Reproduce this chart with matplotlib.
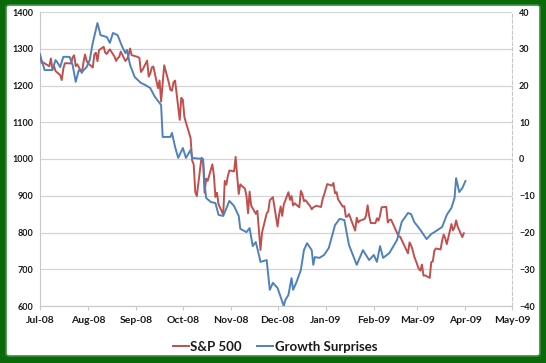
import numpy as np
import pandas as pd
import matplotlib
matplotlib.use("Agg")
import matplotlib.pyplot as plt
import matplotlib.dates as mdates
from matplotlib.patches import FancyBboxPatch

# S&P 500 daily closes, Jul 1 2008 - Mar 31 2009
holidays = ["2008-07-04", "2008-09-01", "2008-11-27", "2008-12-25",
            "2009-01-01", "2009-01-19", "2009-02-16"]
spx = [
    1284.9, 1261.5, 1262.9, 1252.3, 1273.7, 1244.7, 1253.4, 1239.5, 1228.3, 1214.9, 1245.4,
    1260.3, 1260.7, 1260.0, 1277.0, 1282.2, 1252.5, 1257.8, 1234.4, 1263.2, 1284.3, 1267.4,
    1260.3, 1249.0, 1284.9, 1289.2, 1266.1, 1296.3, 1305.3, 1289.6, 1285.8, 1292.9, 1298.2,
    1278.6, 1266.7, 1274.5, 1277.7, 1292.2, 1266.8, 1271.5, 1281.7, 1300.7, 1282.8,
    1277.6, 1275.0, 1236.8, 1242.3, 1267.8, 1224.5, 1232.0, 1249.1, 1251.7, 1192.7, 1213.6,
    1156.4, 1206.5, 1255.1, 1207.1, 1188.2, 1185.9, 1209.2, 1213.3, 1106.4, 1166.4,
    1161.1, 1114.3, 1099.2, 1056.9, 996.2, 984.9, 909.9, 899.2, 1003.4, 998.0, 907.8, 946.4,
    940.6, 985.4, 955.1, 896.8, 908.1, 876.8, 848.9, 940.5, 930.1, 954.1, 968.8,
    966.3, 1005.8, 952.8, 904.9, 931.0, 919.2, 899.0, 852.3, 911.3, 873.3, 850.8, 859.1,
    806.6, 752.4, 800.0, 851.8, 857.4, 887.7, 896.2,
    816.2, 848.8, 870.7, 845.2, 876.1, 909.7, 888.7, 899.2, 873.6, 879.7, 868.6, 913.2,
    904.4, 885.3, 887.9, 871.6, 863.2, 868.2, 872.8, 869.4, 890.6, 903.3,
    931.8, 927.5, 934.7, 906.7, 909.7, 890.4, 870.3, 871.8, 842.6, 843.7, 850.1, 805.2,
    840.2, 827.5, 832.0, 836.6, 845.7, 874.1, 845.1, 825.9,
    825.4, 838.5, 832.2, 845.9, 868.6, 869.9, 827.2, 833.7, 835.2, 826.8, 789.2, 788.4,
    778.9, 770.1, 743.3, 773.1, 764.9, 752.8, 735.1,
    700.8, 696.3, 712.9, 682.6, 683.4, 676.5, 719.6, 721.4, 750.7, 756.6, 753.9, 778.1,
    794.4, 784.0, 768.5, 822.9, 806.1, 813.9, 832.9, 815.9, 787.5, 797.9,
]

# Growth Surprises index (right axis): days after Jul 1 2008, value
gs_day = [0, 3, 8, 10, 11, 13, 15, 19, 21, 23, 25, 27, 30, 32, 34, 37, 39, 43, 45, 47,
          50, 53, 55, 56, 58, 61, 65, 68, 71, 74, 78, 79, 84, 85, 87, 89, 92, 94, 97, 98,
          105, 106, 107, 110, 113, 115, 118, 122, 125, 128, 129, 133, 135, 137, 139, 141,
          142, 146, 148, 150, 153, 157, 158, 160, 162, 163, 165, 168, 170, 172, 175, 176,
          177, 180, 183, 186, 190, 193, 196, 199, 204, 208, 212, 215, 217, 219, 221, 225,
          230, 233, 237, 239, 241, 245, 249, 252, 254, 259, 262, 265, 267, 268, 270, 272, 274]
gs_val = [28.3, 24.2, 24.2, 26.9, 26.4, 25.0, 27.8, 27.8, 25.6, 21.0, 24.2, 23.7, 25.0,
          26.9, 31.6, 37.0, 33.7, 33.2, 31.6, 34.3, 33.7, 30.5, 28.8, 29.7, 25.6, 22.3,
          20.7, 20.1, 19.3, 16.9, 14.7, 6.0, 6.0, 7.1, 3.3, 0.3, 3.0, 0.3, 2.5, 0.3,
          0.0, -6.5, -10.6, -11.7, -12.0, -15.2, -15.5, -11.4, -12.8, -15.5, -19.0, -19.9,
          -18.8, -23.7, -22.6, -26.1, -28.0, -27.5, -35.6, -33.7, -35.1, -40.0, -38.4,
          -37.0, -32.4, -35.6, -33.7, -30.2, -24.8, -22.9, -24.8, -28.8, -26.7, -26.9,
          -26.1, -24.2, -18.0, -16.3, -16.6, -23.4, -28.8, -24.8, -27.5, -26.1, -28.0,
          -23.7, -26.9, -25.6, -22.0, -17.1, -14.7, -15.0, -17.1, -19.3, -21.8, -20.4,
          -19.9, -18.5, -15.2, -13.3, -10.6, -5.2, -9.0, -7.9, -6.0]

month_ticks = pd.date_range("2008-07-01", "2009-05-01", freq="MS")

spx_dates = pd.bdate_range("2008-07-01", "2009-03-31", freq="C", holidays=holidays)
gs_dates = pd.Timestamp("2008-07-01") + pd.to_timedelta(gs_day, unit="D")

red = "#C0504D"
blue = "#4F81BD"
txt = "#1a1a1a"
plt.rcParams["font.family"] = ["Lato", "DejaVu Sans"]

fig = plt.figure(figsize=(5.46, 3.63), dpi=100, facecolor="#0a6a0a")
# white card inside the green frame
card = FancyBboxPatch((6 / 546, 7 / 363), 534 / 546, 351 / 363,
                      boxstyle="round,pad=0,rounding_size=0.006",
                      transform=fig.transFigure, facecolor="white",
                      edgecolor="#3c8c3c", linewidth=1.2, zorder=-5)
fig.patches.append(card)

ax = fig.add_axes([40 / 546, 1 - 306 / 363, 472 / 546, 294 / 363])
ax.set_facecolor("none")
ax2 = ax.twinx()

ax.plot(spx_dates, spx, color=red, lw=1.4, label="S&P 500", zorder=3)
ax2.plot(gs_dates, gs_val, color=blue, lw=1.4, label="Growth Surprises", zorder=3)

ax.set_ylim(600, 1400)
ax2.set_ylim(-40, 40)
ax.set_yticks(np.arange(600, 1401, 100))
ax2.set_yticks(np.arange(-40, 41, 10))
ax.set_xlim(month_ticks[0], month_ticks[-1])
ax.set_xticks(month_ticks)
ax.xaxis.set_major_formatter(mdates.DateFormatter("%b-%y"))

ax.grid(axis="y", color="#d4d4d4", lw=0.9)
ax.set_axisbelow(True)

for a in (ax, ax2):
    for s in a.spines.values():
        s.set_visible(False)
ax.spines["left"].set_visible(True)
ax.spines["left"].set_color("#c8c8c8")
ax.spines["bottom"].set_visible(True)
ax.spines["bottom"].set_color("#c8c8c8")
ax2.spines["right"].set_visible(True)
ax2.spines["right"].set_color("#c8c8c8")
ax2.spines["right"].set_linestyle((0, (3, 2)))

ax.tick_params(axis="y", length=0, pad=5, labelsize=6.5, labelcolor=txt)
ax2.tick_params(axis="y", length=0, pad=5, labelsize=6.5, labelcolor=txt)
ax.tick_params(axis="x", length=3, color="#c8c8c8", pad=4, labelsize=7.5, labelcolor=txt)
for lab in ax.get_yticklabels() + ax2.get_yticklabels() + ax.get_xticklabels():
    lab.set_fontweight("bold")

h1, l1 = ax.get_legend_handles_labels()
h2, l2 = ax2.get_legend_handles_labels()
leg = fig.legend(h1 + h2, l1 + l2, loc="center", bbox_to_anchor=(275 / 546, 1 - 347 / 363),
                 ncol=2, frameon=False, handlelength=1.2, handletextpad=0.1,
                 columnspacing=1.2, prop={"size": 9.5, "weight": "bold"})
for t in leg.get_texts():
    t.set_color(txt)

fig.savefig("out.png", dpi=100, facecolor=fig.get_facecolor())
